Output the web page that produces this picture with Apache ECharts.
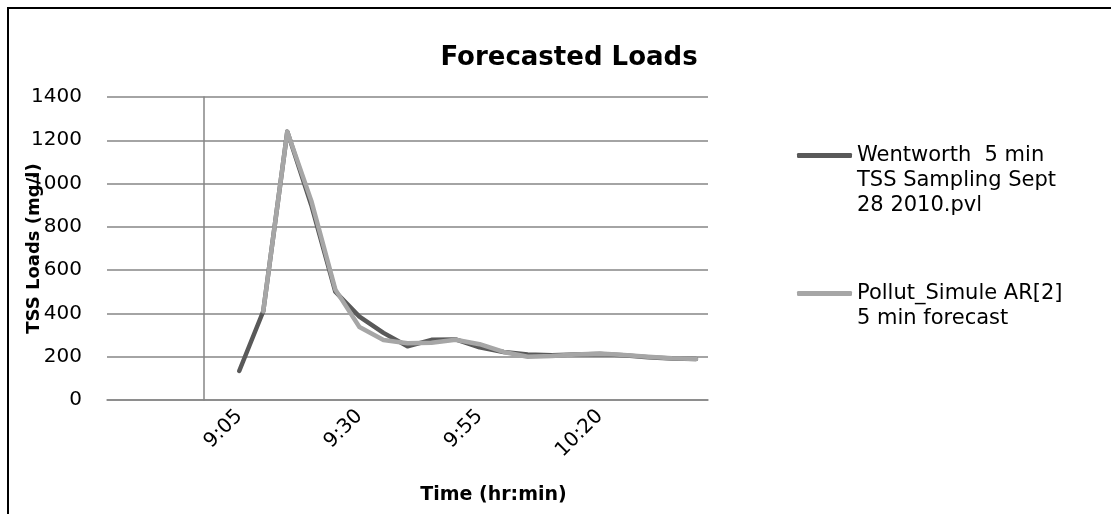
<!DOCTYPE html>
<html>
<head>
<meta charset="utf-8">
<script src="https://cdn.jsdelivr.net/npm/echarts@6/dist/echarts.min.js"></script>
<style>
  html, body { margin: 0; padding: 0; background: #fff; }
  #chart { width: 1111px; height: 514px; }
</style>
</head>
<body>
<div id="chart"></div>
<script>
// 5 minute time steps, 8:40 .. 10:40
const times = ['8:40', '8:45', '8:50', '8:55', '9:00', '9:05', '9:10', '9:15', '9:20', '9:25',
               '9:30', '9:35', '9:40', '9:45', '9:50', '9:55', '10:00', '10:05', '10:10', '10:15',
               '10:20', '10:25', '10:30', '10:35', '10:40'];
const shownLabels = ['9:05', '9:30', '9:55', '10:20'];

const measuredName = 'Wentworth  5 min TSS Sampling Sept 28 2010.pvl';
const forecastName = 'Pollut_Simule AR[2] 5 min forecast';

const measured = [null, null, null, null, null,
                  134, 410, 1240, 900, 500, 385, 310, 248, 278, 280,
                  243, 222, 210, 207, 210, 213, 207, 198, 192, 190];
const forecast = [null, null, null, null, null,
                  null, 410, 1240, 920, 510, 337, 277, 262, 265, 278,
                  258, 222, 200, 203, 210, 215, 208, 200, 193, 190];

const yTicks = { min: 0, max: 1400, step: 200 };

const font = '"DejaVu Sans", "Open Sans", sans-serif';
const gridColor = '#868686';

const chart = echarts.init(document.getElementById('chart'));

chart.setOption({
    backgroundColor: '#fff',
    animation: false,
    textStyle: { fontFamily: font },
    title: {
        text: 'Forecasted Loads',
        left: 564, top: 40, textAlign: 'center',
        textStyle: { fontSize: 26, fontWeight: 'bold', color: '#000', fontFamily: font }
    },
    grid: { left: 107, right: 403, top: 97, bottom: 114 },
    legend: [
        {
            // leading blank lines keep the icon level with the first text line
            data: [measuredName],
            left: 792, top: 88,
            icon: 'roundRect',
            itemWidth: 55, itemHeight: 5,
            formatter: () => '\n\nWentworth  5 min\nTSS Sampling Sept\n28 2010.pvl',
            textStyle: { fontSize: 21, lineHeight: 25, color: '#000' }
        },
        {
            data: [forecastName],
            left: 792, top: 251,
            icon: 'roundRect',
            itemWidth: 55, itemHeight: 5,
            formatter: () => '\nPollut_Simule AR[2]\n5 min forecast',
            textStyle: { fontSize: 21, lineHeight: 25, color: '#000' }
        }
    ],
    xAxis: {
        type: 'category',
        data: times,
        boundaryGap: true,
        name: 'Time (hr:min)',
        nameLocation: 'middle',
        nameGap: 86,
        nameMoveOverlap: false,
        // title sits right of the plot centre in the original
        nameTextStyle: { fontSize: 19, fontWeight: 'bold', color: '#000', padding: [0, 0, 0, 172] },
        axisLine: { lineStyle: { color: gridColor, width: 1.5 } },
        axisTick: { show: false },
        axisLabel: {
            interval: (i, v) => shownLabels.includes(v),
            rotate: 45, margin: 13,
            fontSize: 20, color: '#000'
        },
        splitLine: { show: false }
    },
    yAxis: [
        {
            type: 'value',
            min: yTicks.min, max: yTicks.max, interval: yTicks.step,
            name: 'TSS Loads (mg/l)',
            nameLocation: 'middle',
            nameGap: 64,
            nameMoveOverlap: false,
            nameTextStyle: { fontSize: 18, fontWeight: 'bold', color: '#000' },
            axisLine: { show: false },
            axisTick: { show: false },
            axisLabel: { fontSize: 20, color: '#000', margin: 25, formatter: v => String(v) },
            splitLine: { lineStyle: { color: gridColor, width: 1.5 } }
        },
        {
            // vertical axis crossing between categories 4 and 5
            type: 'value',
            min: yTicks.min, max: yTicks.max, interval: yTicks.step,
            position: 'left',
            offset: -97,
            axisLine: { show: true, lineStyle: { color: gridColor, width: 1.5 } },
            axisTick: { show: false },
            axisLabel: { show: false },
            splitLine: { show: false }
        }
    ],
    series: [
        {
            name: measuredName,
            type: 'line',
            data: measured,
            symbol: 'none',
            color: '#595959',
            lineStyle: { width: 4.5, color: '#595959', cap: 'round', join: 'round' }
        },
        {
            name: forecastName,
            type: 'line',
            data: forecast,
            symbol: 'none',
            color: '#a6a6a6',
            lineStyle: { width: 4.5, color: '#a6a6a6', cap: 'round', join: 'round' }
        }
    ],
    graphic: [
        {
            type: 'rect',
            shape: { x: 8, y: 8, width: 1200, height: 600 },
            style: { fill: 'none', stroke: '#000', lineWidth: 2 },
            silent: true
        }
    ]
});

window.addEventListener('resize', () => chart.resize());
</script>
</body>
</html>
